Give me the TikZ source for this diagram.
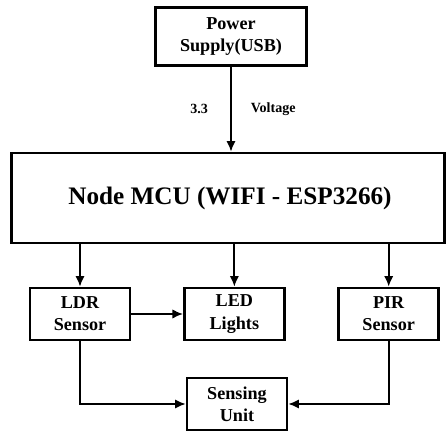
\documentclass[tikz,border=0pt]{standalone}
\usepackage{fontspec}
\setmainfont{Liberation Serif}
\usetikzlibrary{positioning, arrows.meta}

\begin{document}
\begin{tikzpicture}[
        blk/.style={draw, line width=2.3pt, rectangle, minimum width=3cm, minimum height=1.56cm, align=center, inner sep=1pt, font=\bfseries\fontsize{15.5}{19}\selectfont},
        conn/.style={line width=1.6pt, -{Latex[length=9pt, width=8pt]}},
        lbl/.style={font=\bfseries\fontsize{12}{14}\selectfont}]
        \useasboundingbox (0,0) rectangle (13.41,12.96);

        \node[blk, minimum width=4.53cm, minimum height=1.74cm] (psu) at (6.93,11.865) {Power\\Supply(USB)};
        \node[blk, minimum width=13.0cm, minimum height=2.7cm, font=\bfseries\fontsize{21.5}{25}\selectfont] (mcu) at (6.84,7.02) {\hspace{0.12cm}Node MCU (WIFI - ESP3266)};

        \node[blk] (ldr) at (2.4,3.54) {LDR\\Sensor};
        \node[blk, right=1.55cm of ldr] (led) {LED\\Lights};
        \node[blk, right=1.55cm of led] (pir) {PIR\\Sensor};
        \node[blk] (sense) at (7.11,0.84) {Sensing\\Unit};

        \draw[conn] (psu.south) -- (psu.south |- mcu.north)
            node[lbl, midway, left=0.55cm] {3.3}
            node[lbl, midway, right=0.45cm] {Voltage};
        \draw[conn] (ldr.north |- mcu.south) -- (ldr);
        \draw[conn] (led.north |- mcu.south) -- (led);
        \draw[conn] (pir.north |- mcu.south) -- (pir);
        \draw[conn] (ldr) -- (led);
        \draw[conn] (ldr.south) |- (sense.west);
        \draw[conn] (pir.south) |- (sense.east);
    \end{tikzpicture}
\end{document}
